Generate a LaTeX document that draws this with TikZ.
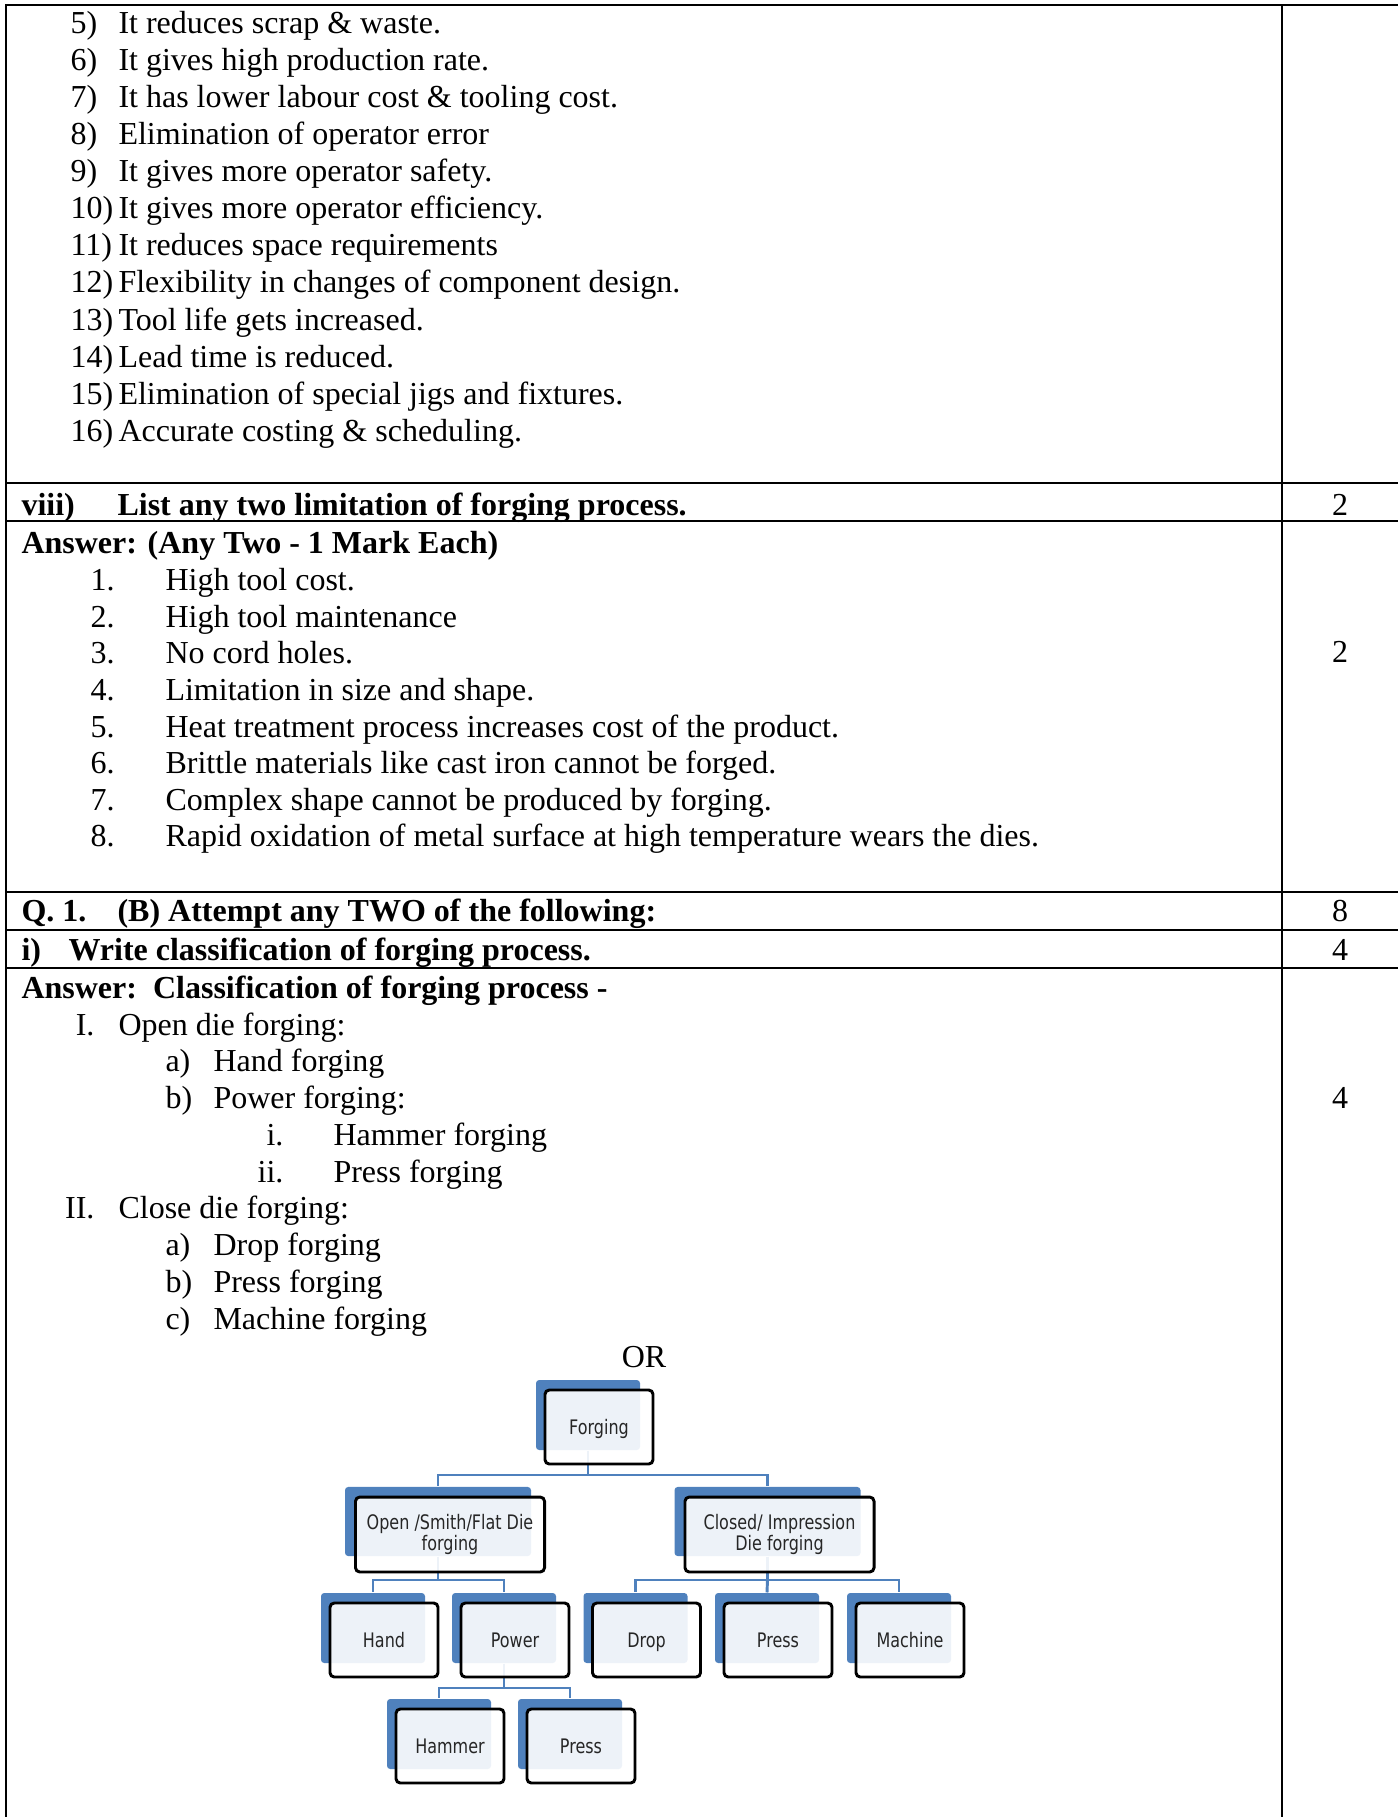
\documentclass[tikz,border=0pt]{standalone}
\usepackage{fontspec}
\setmainfont{Liberation Serif}
\newfontfamily\smartfont[FakeStretch=0.8]{DejaVu Sans}
\usetikzlibrary{calc}
\definecolor{smartblue}{HTML}{4F81BD}
\begin{document}
\begin{tikzpicture}[x=0.375pt,y=-0.375pt,
 txt/.style={anchor=base west,inner sep=0pt,font=\fontsize{12}{14}\selectfont},
 btxt/.style={anchor=base west,inner sep=0pt,font=\fontsize{12}{14}\selectfont\bfseries},
 rtxt/.style={anchor=base east,inner sep=0pt,font=\fontsize{12}{14}\selectfont},
 ctxt/.style={anchor=base,inner sep=0pt,font=\fontsize{12}{14}\selectfont},
 rule/.style={line width=1.1pt,black,line cap=rect},
 shadowbox/.style={fill=smartblue,rounded corners=1.2pt,minimum width=39pt,minimum height=26.25pt,inner sep=0pt},
 wideshadow/.style={shadowbox,minimum width=69.75pt,minimum height=25.9pt},
 frontbase/.style={draw=black,line width=1.1pt,rounded corners=1.6pt,fill=white,fill opacity=0.9,text opacity=1,inner sep=0pt,align=center,font=\smartfont\fontsize{7.5}{7.7}\selectfont,text=black!85},
 frontbox/.style={frontbase,minimum width=40.5pt,minimum height=27.75pt,text height=6.5pt,text depth=1.1pt},
 widefront/.style={frontbase,minimum width=70.9pt,minimum height=28.1pt},
 conn/.style={draw=smartblue,line width=1.1pt}
]
\useasboundingbox (0,0) rectangle (1397,1817);

% table rules
\draw[rule] (6,5) -- (1397,5);
\draw[rule] (6,5) -- (6,1817);
\draw[rule] (1282,5) -- (1282,1817);
\draw[rule] (6,483) -- (1397,483);
\draw[rule] (6,521) -- (1397,521);
\draw[rule] (6,892) -- (1397,892);
\draw[rule] (6,930) -- (1397,930);
\draw[rule] (6,968) -- (1397,968);

% advantages list
\node[txt] (a5n) at (70,33) {5)};   \node[txt] (a5) at (118,33) {It reduces scrap \& waste.};
\node[txt] (a6n) at (70,70) {6)};   \node[txt] (a6) at (118,70) {It gives high production rate.};
\node[txt] (a7n) at (70,107) {7)};  \node[txt] (a7) at (118,107) {It has lower labour cost \& tooling cost.};
\node[txt] (a8n) at (70,144) {8)};  \node[txt] (a8) at (118,144) {Elimination of operator error};
\node[txt] (a9n) at (70,181.5) {9)};  \node[txt] (a9) at (118,181.5) {It gives more operator safety.};
\node[txt] (a10n) at (70,218.5) {10)}; \node[txt] (a10) at (118,218.5) {It gives more operator efficiency.};
\node[txt] (a11n) at (70,255.5) {11)}; \node[txt] (a11) at (118,255.5) {It reduces space requirements};
\node[txt] (a12n) at (70,292.5) {12)}; \node[txt] (a12) at (118,292.5) {Flexibility in changes of component design.};
\node[txt] (a13n) at (70,330) {13)}; \node[txt] (a13) at (118,330) {Tool life gets increased.};
\node[txt] (a14n) at (70,367) {14)}; \node[txt] (a14) at (118,367) {Lead time is reduced.};
\node[txt] (a15n) at (70,404) {15)}; \node[txt] (a15) at (118,404) {Elimination of special jigs and fixtures.};
\node[txt] (a16n) at (70,441) {16)}; \node[txt] (a16) at (118,441) {Accurate costing \& scheduling.};

% viii
\node[btxt] (q8n) at (21,515) {viii)};
\node[btxt] (q8) at (117,515) {List any two limitation of forging process.};
\node[ctxt] (m8) at (1340,515) {2};
\node[btxt] (ans8) at (21,553) {Answer: (Any Two - 1 Mark Each)};
\node[txt] (l1n) at (90,590) {1.}; \node[txt] (l1) at (165,590) {High tool cost.};
\node[txt] (l2n) at (90,627) {2.}; \node[txt] (l2) at (165,627) {High tool maintenance};
\node[txt] (l3n) at (90,663.5) {3.}; \node[txt] (l3) at (165,663.5) {No cord holes.};
\node[txt] (l4n) at (90,700.5) {4.}; \node[txt] (l4) at (165,700.5) {Limitation in size and shape.};
\node[txt] (l5n) at (90,737) {5.}; \node[txt] (l5) at (165,737) {Heat treatment process increases cost of the product.};
\node[txt] (l6n) at (90,773.5) {6.}; \node[txt] (l6) at (165,773.5) {Brittle materials like cast iron cannot be forged.};
\node[txt] (l7n) at (90,810.5) {7.}; \node[txt] (l7) at (165,810.5) {Complex shape cannot be produced by forging.};
\node[txt] (l8n) at (90,846.5) {8.}; \node[txt] (l8) at (165,846.5) {Rapid oxidation of metal surface at high temperature wears the dies.};
\node[ctxt] (m8b) at (1340,662.5) {2};

% Q1 B
\node[btxt] (qbn) at (21,921.5) {Q. 1.};
\node[btxt] (qb) at (117,921.5) {(B) Attempt any TWO of the following:};
\node[ctxt] (mqb) at (1340,921.5) {8};
\node[btxt] (q1n) at (21,960.5) {i)};
\node[btxt] (q1) at (68,960.5) {Write classification of forging process.};
\node[ctxt] (mq1) at (1340,960.5) {4};
\node[btxt] (ans1) at (21,998.5) {Answer:\ \ Classification of forging process -};
\node[rtxt] (c1n) at (95,1035.5) {I.};   \node[txt] (c1) at (118,1035.5) {Open die forging:};
\node[txt] (c1an) at (165,1071.5) {a)};  \node[txt] (c1a) at (213,1071.5) {Hand forging};
\node[txt] (c1bn) at (165,1108.5) {b)};  \node[txt] (c1b) at (213,1108.5) {Power forging:};
\node[rtxt] (c1bin) at (284,1145.5) {i.};  \node[txt] (c1bi) at (333,1145.5) {Hammer forging};
\node[rtxt] (c1bjn) at (284,1182.5) {ii.}; \node[txt] (c1bj) at (333,1182.5) {Press forging};
\node[rtxt] (c2n) at (95,1218.5) {II.};  \node[txt] (c2) at (118,1218.5) {Close die forging:};
\node[txt] (c2an) at (165,1255.5) {a)};  \node[txt] (c2a) at (213,1255.5) {Drop forging};
\node[txt] (c2bn) at (165,1292.5) {b)};  \node[txt] (c2b) at (213,1292.5) {Press forging};
\node[txt] (c2cn) at (165,1329.5) {c)};  \node[txt] (c2c) at (213,1329.5) {Machine forging};
\node[ctxt] (mans1) at (1340,1108.5) {4};
\node[ctxt] (or) at (644,1367) {OR};

% diagram: shadows
\node[shadowbox] (sForg) at (588,1415) {};
\node[wideshadow] (sOpen) at (438,1521.5) {};
\node[wideshadow] (sClosed) at (767.5,1521.5) {};
\node[shadowbox] (sHand) at (373,1628) {};
\node[shadowbox] (sPower) at (504,1628) {};
\node[shadowbox] (sDrop) at (635.5,1628) {};
\node[shadowbox] (sPress) at (767,1628) {};
\node[shadowbox] (sMach) at (899,1628) {};
\node[shadowbox] (sHam) at (439,1734) {};
\node[shadowbox] (sPress2) at (570,1734) {};

% connectors
\coordinate (bus1) at (0,1475);
\coordinate (bus2) at (0,1580);
\coordinate (bus3) at (0,1688);
\draw[conn] (sForg.south) -- (sForg.south |- bus1) -| (sOpen.north);
\draw[conn] (sForg.south |- bus1) -| (sClosed.north);
\draw[conn] (sOpen.south) -- (sOpen.south |- bus2) -| (sHand.north);
\draw[conn] (sOpen.south |- bus2) -| (sPower.north);
\draw[conn] (sClosed.south) -- (sClosed.south |- bus2) -| (sDrop.north);
\draw[conn] (sClosed.south |- bus2) -| (sMach.north);
\draw[conn] (sClosed.south |- bus2) -- (sPress.north);
\draw[conn] (sPower.south) -- (sPower.south |- bus3) -| (sHam.north);
\draw[conn] (sPower.south |- bus3) -| (sPress2.north);

% front boxes
\node[frontbox] (fForg) at ($(sForg)+(11,12)$) {Forging};
\node[widefront] (fOpen) at ($(sOpen)+(12,13)$) {Open /Smith/Flat Die\\forging};
\node[widefront] (fClosed) at ($(sClosed)+(12,13)$) {Closed/ Impression\\Die forging};
\node[frontbox] (fHand) at ($(sHand)+(11,12)$) {Hand};
\node[frontbox] (fPower) at ($(sPower)+(11,12)$) {Power};
\node[frontbox] (fDrop) at ($(sDrop)+(11,12)$) {Drop};
\node[frontbox] (fPress) at ($(sPress)+(11,12)$) {Press};
\node[frontbox] (fMach) at ($(sMach)+(11,12)$) {Machine};
\node[frontbox] (fHam) at ($(sHam)+(11,12)$) {Hammer};
\node[frontbox] (fPress2) at ($(sPress2)+(11,12)$) {Press};
\end{tikzpicture}
\end{document}
